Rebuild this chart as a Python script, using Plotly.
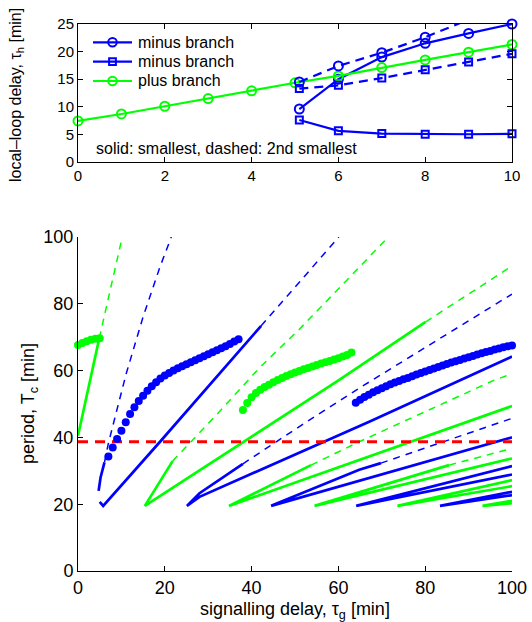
import plotly.graph_objects as go

# ---------------- top panel data ----------------
top_x_plus = [0, 1, 2, 3, 4, 5, 6, 7, 8, 9, 10]
top_plus = [7.45, 8.7, 10.1, 11.5, 12.9, 14.35, 15.6, 17.1, 18.5, 19.9, 21.3]
top_x_minus = [5.1, 6, 7, 8, 9, 10]
top_minus_circ_smallest = [9.6, 15.0, 19.0, 21.5, 23.3, 25.0]
top_minus_circ_second = [14.5, 17.4, 19.8, 22.6, 25.8, 28.5]
top_minus_sq_smallest = [7.6, 5.65, 5.15, 5.03, 5.03, 5.1]
top_minus_sq_second = [13.3, 13.9, 15.2, 16.7, 18.1, 19.6]
top_xticks = [0, 2, 4, 6, 8, 10]
top_yticks = [0, 5, 10, 15, 20, 25]
legend_labels = ["minus branch", "minus branch", "plus branch"]

# ---------------- bottom panel data ----------------
plus_dots_a_tau = [0, 1, 2, 3, 4, 5]
plus_dots_a_T = [67.7, 68.3, 68.8, 69.2, 69.5, 69.7]
minus_dots_a_tau = [7, 8, 9, 10, 11, 12, 13, 14, 15, 16, 17, 18, 19, 20, 21, 22,
                    23, 24, 25, 26, 27, 28, 29, 30, 31, 32, 33, 34, 35, 36, 37]
minus_dots_a_T = [34.3, 37.0, 39.5, 42.0, 44.5, 47.0, 49.0, 50.9, 52.5, 54.0, 55.3,
                  56.5, 57.6, 58.5, 59.3, 60.0, 60.7, 61.3, 61.9, 62.5, 63.1, 63.7,
                  64.3, 64.9, 65.5, 66.1, 66.7, 67.3, 68.0, 68.7, 69.4]
plus_dots_b_tau = [38, 39, 40, 41, 42, 43, 44, 45, 46, 47, 48, 49, 50, 51, 52, 53,
                   54, 55, 56, 57, 58, 59, 60, 61, 62, 63]
plus_dots_b_T = [48.2, 50.3, 52.0, 53.3, 54.3, 55.1, 55.8, 56.5, 57.2, 57.8, 58.4,
                 58.9, 59.4, 59.9, 60.4, 60.8, 61.2, 61.7, 62.1, 62.5, 62.9, 63.3,
                 63.7, 64.2, 64.7, 65.4]
minus_dots_b_tau = [64, 65, 66, 67, 68, 69, 70, 71, 72, 73, 74, 75, 76, 77, 78, 79,
                    80, 81, 82, 83, 84, 85, 86, 87, 88, 89, 90, 91, 92, 93, 94, 95,
                    96, 97, 98, 99, 100]
minus_dots_b_T = [50.4, 51.3, 52.1, 52.8, 53.5, 54.1, 54.7, 55.3, 55.9, 56.4, 56.9,
                  57.4, 57.8, 58.3, 58.8, 59.3, 59.7, 60.2, 60.6, 61.1, 61.5, 62.0,
                  62.4, 62.8, 63.2, 63.6, 64.0, 64.4, 64.8, 65.2, 65.6, 65.9, 66.3,
                  66.6, 67.0, 67.3, 67.5]

# curve pieces (each inner list = one polyline), minus branch = blue, plus = green
minus_solid_tau = [[5.0, 5.8, 18.9, 42.2],
                   [4.75, 5.2, 6.1],
                   [38.0, 28.0, 25.1, 28.0, 67.1, 100.0],
                   [69.8, 64.8, 44.5, 100.0],
                   [100.0, 64.1, 100.0],
                   [100.0, 83.4, 100.0]]
minus_solid_T = [[20.7, 19.5, 38.7, 73.4],
                 [24.0, 28.0, 32.5],
                 [32.1, 23.3, 19.5, 22.2, 44.7, 64.2],
                 [32.3, 30.3, 19.5, 40.0],
                 [31.4, 19.5, 28.9],
                 [23.7, 19.5, 22.7]]
minus_dashed_tau = [[6.1, 7.0, 9.25, 11.2, 15.0, 18.9, 21.5],
                    [42.2, 51.0, 60.1],
                    [38.0, 53.3, 66.0, 100.0],
                    [69.8, 100.0]]
minus_dashed_T = [[32.5, 38.2, 49.7, 59.5, 76.1, 91.1, 100.0],
                  [73.4, 86.6, 100.0],
                  [32.1, 45.2, 55.7, 82.9],
                  [32.3, 45.7]]
plus_solid_tau = [[0.0, 4.9],
                  [21.8, 15.4, 28.0, 60.2, 80.1],
                  [53.7, 34.8, 100.0],
                  [85.5, 54.5, 100.0],
                  [100.0, 73.6, 100.0],
                  [100.0, 93.2, 100.0]]
plus_solid_T = [[40.5, 69.7],
                [32.9, 19.5, 30.1, 57.2, 74.6],
                [31.7, 19.5, 49.4],
                [31.7, 19.5, 33.7],
                [27.2, 19.5, 25.4],
                [21.0, 19.5, 20.3]]
plus_dashed_tau = [[4.9, 10.2],
                   [21.8, 31.5, 41.8, 51.0, 58.7, 71.5],
                   [80.1, 100.0],
                   [53.7, 64.8, 96.0, 100.0],
                   [85.5, 100.0]]
plus_dashed_T = [[69.7, 100.0],
                 [32.9, 46.2, 60.8, 72.4, 82.7, 100.0],
                 [74.6, 91.3],
                 [31.7, 38.7, 57.2, 59.0],
                 [31.7, 36.7]]
threshold_tau = [0, 100]
threshold_T = [38.7, 38.7]
bottom_ticks = [0, 20, 40, 60, 80, 100]

BLUE = "#0000FF"
GREEN = "#00FF00"
RED = "#FF0000"
FONT = "Liberation Sans, Arial, sans-serif"

fig = go.Figure()

# ---------- top panel ----------
top_series = [
    (top_x_minus, top_minus_circ_smallest, BLUE, "circle-open", 9, "solid", False),
    (top_x_minus, top_minus_sq_smallest, BLUE, "square-open", 7, "solid", False),
    (top_x_plus, top_plus, GREEN, "circle-open", 9, "solid", False),
    (top_x_minus, top_minus_circ_second, BLUE, "circle-open", 9, "9px,6px", True),
    (top_x_minus, top_minus_sq_second, BLUE, "square-open", 7, "9px,6px", False),
]
for tx, ty, color, sym, msize, dash, clip in top_series:
    fig.add_trace(go.Scatter(x=tx, y=ty, mode="lines+markers", xaxis="x", yaxis="y",
                             showlegend=False, cliponaxis=clip,
                             line=dict(color=color, width=2.2, dash=dash),
                             marker=dict(symbol=sym, size=msize, color=color,
                                         line=dict(width=2))))

# ---------- bottom panel ----------
for tau_l, T_l, color, dash, width in [
    (minus_dashed_tau, minus_dashed_T, BLUE, "7px,6px", 1.5),
    (plus_dashed_tau, plus_dashed_T, GREEN, "7px,6px", 1.5),
    (minus_solid_tau, minus_solid_T, BLUE, "solid", 2.7),
    (plus_solid_tau, plus_solid_T, GREEN, "solid", 2.7),
]:
    for tx, ty in zip(tau_l, T_l):
        fig.add_trace(go.Scatter(x=tx, y=ty, mode="lines", showlegend=False,
                                 xaxis="x2", yaxis="y2",
                                 line=dict(color=color, width=width, dash=dash)))

fig.add_trace(go.Scatter(x=threshold_tau, y=threshold_T, mode="lines", showlegend=False,
                         xaxis="x2", yaxis="y2",
                         line=dict(color=RED, width=3, dash="10px,7px")))

for tx, ty, color in [(plus_dots_a_tau, plus_dots_a_T, GREEN),
                      (minus_dots_a_tau, minus_dots_a_T, BLUE),
                      (plus_dots_b_tau, plus_dots_b_T, GREEN),
                      (minus_dots_b_tau, minus_dots_b_T, BLUE)]:
    fig.add_trace(go.Scatter(x=tx, y=ty, mode="markers", showlegend=False,
                             xaxis="x2", yaxis="y2", cliponaxis=False,
                             marker=dict(symbol="circle", size=8, color=color,
                                         line=dict(width=0))))

W, H = 532, 622
T_M, B_M, L_M, R_M = 24, 51, 78, 20
ph = H - T_M - B_M
pw = W - L_M - R_M


def py(page_px):
    return 1 - (page_px - T_M) / ph


def pxf(page_px):
    return (page_px - L_M) / pw


def axis_common(size):
    return dict(showline=True, linecolor="black", linewidth=1, ticks="inside",
                ticklen=5, tickcolor="black", showgrid=False, zeroline=False,
                ticklabeloverflow="allow",
                tickfont=dict(family=FONT, size=size, color="black"))


# hand-placed legend (rows match the reference spacing)
shapes = []
annotations = []
legend_rows = [42.3, 61.7, 81.0]
legend_style = [(BLUE, "circle"), (BLUE, "rect"), (GREEN, "circle")]
for row_y, label, (color, kind) in zip(legend_rows, legend_labels, legend_style):
    shapes.append(dict(type="line", xref="paper", yref="paper",
                       x0=pxf(93), x1=pxf(132), y0=py(row_y), y1=py(row_y),
                       line=dict(color=color, width=2.2)))
    half = 4.3 if kind == "circle" else 3.4
    shapes.append(dict(type=kind, xref="paper", yref="paper",
                       xsizemode="pixel", ysizemode="pixel",
                       xanchor=pxf(112.5), yanchor=py(row_y),
                       x0=-half, x1=half, y0=-half, y1=half,
                       line=dict(color=color, width=2), fillcolor="rgba(0,0,0,0)"))
    annotations.append(dict(text=label, xref="paper", yref="paper",
                            x=pxf(136), y=py(row_y), xanchor="left", yanchor="middle",
                            showarrow=False,
                            font=dict(family=FONT, size=16, color="black")))

annotations += [
    dict(text="solid: smallest, dashed: 2nd smallest", x=0.36, y=2.5,
         xref="x", yref="y", xanchor="left", yanchor="middle", showarrow=False,
         font=dict(family=FONT, size=16, color="black")),
    dict(text="local\u2013loop delay, \u03c4<sub>h</sub> [min]", x=pxf(17),
         y=py(95), xref="paper", yref="paper", textangle=-90, showarrow=False,
         xanchor="center", yanchor="middle",
         font=dict(family=FONT, size=16, color="black")),
    dict(text="period, T<sub>c</sub> [min]", x=pxf(29),
         y=py(404), xref="paper", yref="paper", textangle=-90, showarrow=False,
         xanchor="center", yanchor="middle",
         font=dict(family=FONT, size=18, color="black")),
    dict(text="signalling delay, \u03c4<sub>g</sub> [min]", x=0.5,
         y=py(597), xref="paper", yref="paper", showarrow=False,
         xanchor="center", yanchor="top",
         font=dict(family=FONT, size=18, color="black")),
]

fig.update_layout(
    width=W, height=H,
    margin=dict(l=L_M, r=R_M, t=T_M, b=B_M, autoexpand=False),
    paper_bgcolor="white", plot_bgcolor="white",
    font=dict(family=FONT, size=16, color="black"),
    xaxis=dict(domain=[0, 1], anchor="y", range=[0, 10], tickvals=top_xticks,
               mirror="ticks", **axis_common(15)),
    yaxis=dict(domain=[py(162), 1], anchor="x", range=[0, 25], tickvals=top_yticks,
               mirror="ticks", **axis_common(15)),
    xaxis2=dict(domain=[0, 1], anchor="y2", range=[0, 100], tickvals=bottom_ticks,
                **axis_common(18)),
    yaxis2=dict(domain=[0, py(237)], anchor="x2", range=[0, 100], tickvals=bottom_ticks,
                **axis_common(18)),
    showlegend=False,
    shapes=shapes,
    annotations=annotations,
)

fig.write_html("out.html",
               config={"displayModeBar": False},
               post_script="document.body.style.margin='0px';"
                           "document.body.style.overflow='hidden';")
